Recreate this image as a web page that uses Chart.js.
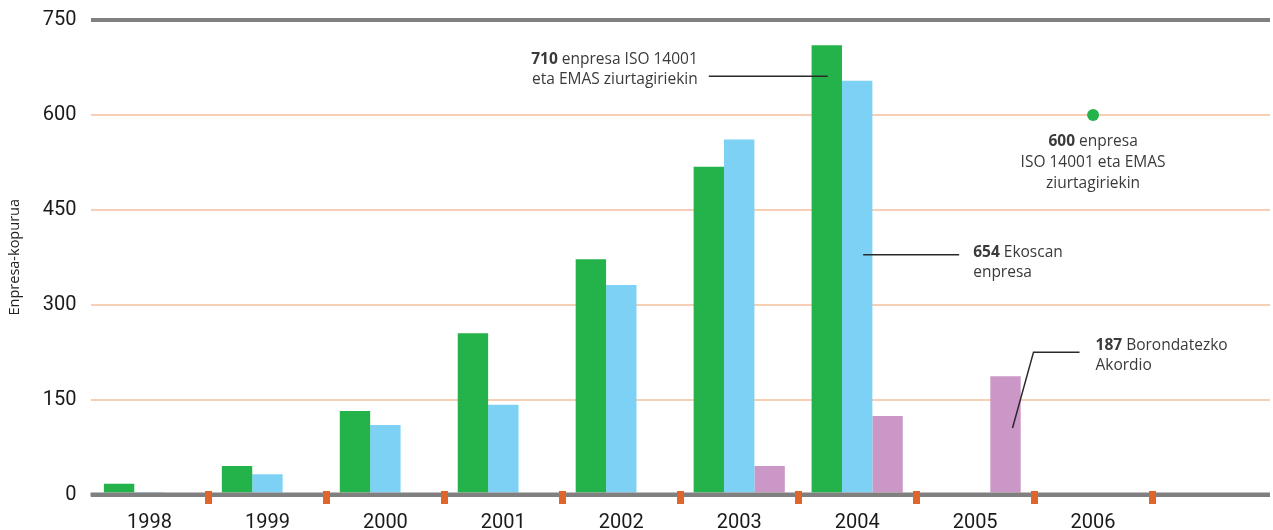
<!DOCTYPE html>
<html>
<head>
<meta charset="utf-8">
<script src="https://cdn.jsdelivr.net/npm/chart.js@4"></script>
<style>
  html, body { margin: 0; padding: 0; background: #fff; overflow: hidden; }
  #enpresaChart { display: block; }
</style>
</head>
<body>
<canvas id="enpresaChart" width="1276" height="530"></canvas>
<script>
// categories and series
const years = ['1998', '1999', '2000', '2001', '2002', '2003', '2004', '2005', '2006', ''];
const isoEmas = [17, 45, 132, 255, 372, 518, 710, null, null, null];
const ekoscan = [4, 32, 110, 142, 331, 561, 654, null, null, null];
const borondatezko = [null, null, null, null, null, 45, 124, 187, null, null];
const isoEmasHelburua = [null, null, null, null, null, null, null, null, 600, null];
const yTicks = [0, 150, 300, 450, 600, 750];

const GREEN = '#24b34b';
const BLUE = '#7dd1f5';
const PURPLE = '#cb97c6';
const AXIS_GREY = '#808080';
const GRID_PEACH = '#f6cfb5';
const MARK_ORANGE = '#e0652b';
const TEXT = '#3a3a3a';
const LABEL_FONT = '"Open Sans", "Noto Sans", sans-serif';
const LABEL_SIZE = 15.5;

// callouts: bold number + rest of first line, then extra lines
const callouts = [
  { dataset: 0, index: 6, bold: '710', lines: [' enpresa ISO 14001', 'eta EMAS ziurtagiriekin'], kind: 'left' },
  { dataset: 1, index: 6, bold: '654', lines: [' Ekoscan', 'enpresa'], kind: 'right' },
  { dataset: 3, index: 8, bold: '600', lines: [' enpresa', 'ISO 14001 eta EMAS', 'ziurtagiriekin'], kind: 'below' },
  { dataset: 2, index: 7, bold: '187', lines: [' Borondatezko', 'Akordio'], kind: 'elbow' }
];

function drawMixed(ctx, bold, rest, x, y, align) {
  ctx.font = 'bold ' + LABEL_SIZE + 'px ' + LABEL_FONT;
  const wb = ctx.measureText(bold).width;
  ctx.font = LABEL_SIZE + 'px ' + LABEL_FONT;
  const wr = ctx.measureText(rest).width;
  let start = x;
  if (align === 'right') start = x - wb - wr;
  if (align === 'center') start = x - (wb + wr) / 2;
  ctx.textAlign = 'left';
  ctx.font = 'bold ' + LABEL_SIZE + 'px ' + LABEL_FONT;
  ctx.fillText(bold, start, y);
  ctx.font = LABEL_SIZE + 'px ' + LABEL_FONT;
  ctx.fillText(rest, start + wb, y);
}

function drawPlain(ctx, text, x, y, align) {
  ctx.font = LABEL_SIZE + 'px ' + LABEL_FONT;
  ctx.textAlign = align;
  ctx.fillText(text, x, y);
}

const overlayPlugin = {
  id: 'overlay',
  afterDatasetsDraw(chart) {
    const { ctx, chartArea, scales } = chart;
    const x = scales.x, y = scales.y;
    const y0 = y.getPixelForValue(0);
    ctx.save();
    // zero line on top of bar bases
    ctx.strokeStyle = AXIS_GREY;
    ctx.lineWidth = 4;
    ctx.beginPath();
    ctx.moveTo(chartArea.left, y0);
    ctx.lineTo(chartArea.right, y0);
    ctx.stroke();
    // orange markers between the years
    ctx.fillStyle = MARK_ORANGE;
    for (let i = 1; i < years.length; i++) {
      const bx = (x.getPixelForTick(i - 1) + x.getPixelForTick(i)) / 2;
      ctx.fillRect(Math.round(bx - 3.5), y0 - 3.5, 7, 13);
    }
    ctx.restore();
  },
  afterDraw(chart) {
    const { ctx, chartArea, scales } = chart;
    const y = scales.y;
    ctx.save();
    // axis title
    ctx.fillStyle = '#222';
    ctx.font = '14.5px ' + LABEL_FONT;
    ctx.textAlign = 'center';
    ctx.textBaseline = 'middle';
    ctx.translate(15, (chartArea.top + chartArea.bottom) / 2);
    ctx.rotate(-Math.PI / 2);
    ctx.fillText('Enpresa-kopurua', 0, 0);
    ctx.restore();

    ctx.save();
    ctx.fillStyle = TEXT;
    ctx.strokeStyle = '#2a2a2a';
    ctx.lineWidth = 1.5;
    ctx.textBaseline = 'middle';
    callouts.forEach(c => {
      const el = chart.getDatasetMeta(c.dataset).data[c.index];
      if (!el) return;
      const ex = el.x;
      if (c.kind === 'left') {
        const ly = y.getPixelForValue(661);
        ctx.beginPath();
        ctx.moveTo(ex - 118, ly);
        ctx.lineTo(ex + 1, ly);
        ctx.stroke();
        const tx = ex - 129;
        drawMixed(ctx, c.bold, c.lines[0], tx, ly - 17, 'right');
        drawPlain(ctx, c.lines[1], tx, ly + 3, 'right');
      } else if (c.kind === 'right') {
        const ly = y.getPixelForValue(379);
        ctx.beginPath();
        ctx.moveTo(ex + 6, ly);
        ctx.lineTo(ex + 102, ly);
        ctx.stroke();
        const tx = ex + 116;
        drawMixed(ctx, c.bold, c.lines[0], tx, ly - 2, 'left');
        drawPlain(ctx, c.lines[1], tx, ly + 18, 'left');
      } else if (c.kind === 'below') {
        const tx = ex;
        drawMixed(ctx, c.bold, c.lines[0], tx, el.y + 27, 'center');
        drawPlain(ctx, c.lines[1], tx, el.y + 48, 'center');
        drawPlain(ctx, c.lines[2], tx, el.y + 69, 'center');
      } else if (c.kind === 'elbow') {
        const sy = y.getPixelForValue(105);
        const ky = y.getPixelForValue(225);
        ctx.beginPath();
        ctx.moveTo(ex + 7, sy);
        ctx.lineTo(ex + 28, ky);
        ctx.lineTo(ex + 74, ky);
        ctx.stroke();
        const tx = ex + 90;
        drawMixed(ctx, c.bold, c.lines[0], tx, ky - 7, 'left');
        drawPlain(ctx, c.lines[1], tx, ky + 13, 'left');
      }
    });
    ctx.restore();
  }
};

const barStyle = { categoryPercentage: 0.773, barPercentage: 1, borderWidth: 0 };

new Chart(document.getElementById('enpresaChart'), {
  type: 'bar',
  data: {
    labels: years,
    datasets: [
      { label: 'ISO 14001 eta EMAS', data: isoEmas, backgroundColor: GREEN, ...barStyle },
      { label: 'Ekoscan', data: ekoscan, backgroundColor: BLUE, ...barStyle },
      { label: 'Borondatezko Akordio', data: borondatezko, backgroundColor: PURPLE, ...barStyle },
      {
        type: 'line', label: 'Helburua', data: isoEmasHelburua, showLine: false,
        pointRadius: 6, pointBackgroundColor: GREEN, pointBorderWidth: 0, borderColor: GREEN
      }
    ]
  },
  options: {
    responsive: false,
    devicePixelRatio: 1,
    animation: false,
    layout: { padding: { top: 20, right: 0, left: 0, bottom: 0 } },
    plugins: { legend: { display: false }, tooltip: { enabled: false } },
    scales: {
      x: {
        offset: true,
        grid: { display: false, drawTicks: false },
        border: { display: false },
        ticks: {
          color: '#1a1a1a',
          font: { family: 'Roboto', size: 20 },
          padding: 16,
          maxRotation: 0,
          autoSkip: false
        },
        afterFit(scale) {
          scale.height = 35.5;
          scale.paddingLeft = 0;
          scale.paddingRight = 0;
        }
      },
      y: {
        min: 0,
        max: 750,
        afterBuildTicks(scale) { scale.ticks = yTicks.map(v => ({ value: v })); },
        grid: {
          drawTicks: false,
          color: ctx => (ctx.tick.value === 0 || ctx.tick.value === 750) ? AXIS_GREY : GRID_PEACH,
          lineWidth: ctx => (ctx.tick.value === 0 || ctx.tick.value === 750) ? 4 : 2
        },
        border: { display: false },
        ticks: {
          color: '#1a1a1a',
          font: { family: 'Roboto', size: 20 },
          padding: 14
        },
        afterFit(scale) {
          scale.width = 90.5;
          scale.paddingTop = 0;
          scale.paddingBottom = 0;
        }
      }
    }
  },
  plugins: [overlayPlugin]
});
</script>
</body>
</html>
